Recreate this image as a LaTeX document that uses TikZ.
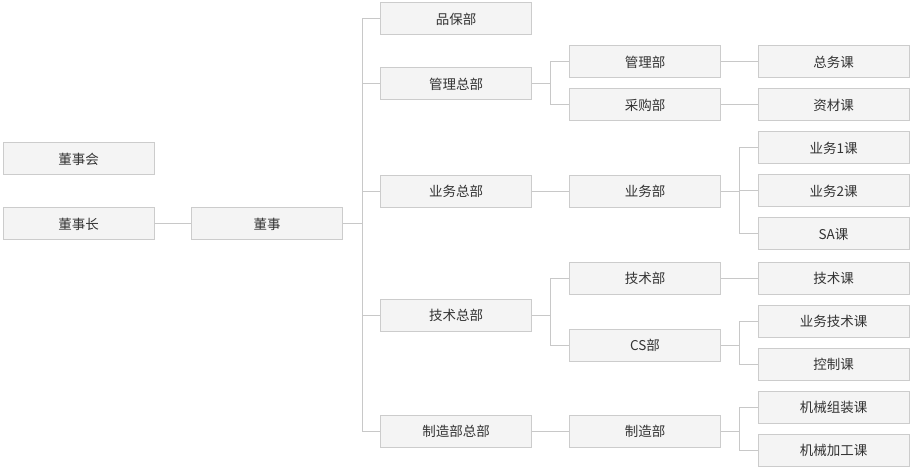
\documentclass[tikz,border=0pt]{standalone}
\usepackage{fontspec}
\setmainfont{Noto Sans CJK SC}
\definecolor{boxfill}{HTML}{F4F4F4}
\definecolor{boxline}{HTML}{CCCCCC}
\definecolor{wire}{HTML}{C8C8C8}
\definecolor{txt}{HTML}{333333}
\begin{document}
\begin{tikzpicture}[x=1pt,y=-1pt,
  orgbox/.style={draw=boxline,fill=boxfill,line width=1pt,minimum width=151pt,minimum height=32pt,inner sep=0pt,
    font=\fontsize{13.5}{16}\selectfont,text=txt},
  wireline/.style={draw=wire,line width=1pt}]
\useasboundingbox (0,0) rectangle (912,470);
% column 1
\node[orgbox] (dsh) at (78.5,159) {董事会};
\node[orgbox] (dsz) at (78.5,224) {董事长};
% column 2
\node[orgbox] (ds) at (267,224) {董事};
% column 3
\node[orgbox] (pb) at (456,19) {品保部};
\node[orgbox] (glz) at (456,84) {管理总部};
\node[orgbox] (ywz) at (456,191.5) {业务总部};
\node[orgbox] (jsz) at (456,315.5) {技术总部};
\node[orgbox] (zzz) at (456,431.5) {制造部总部};
% column 4
\node[orgbox] (gl) at (645,62) {管理部};
\node[orgbox] (cg) at (645,105) {采购部};
\node[orgbox] (yw) at (645,191.5) {业务部};
\node[orgbox] (js) at (645,278) {技术部};
\node[orgbox] (cs) at (645,345) {CS部};
\node[orgbox] (zz) at (645,431.5) {制造部};
% column 5
\node[orgbox] (zw) at (833.5,62) {总务课};
\node[orgbox] (zc) at (833.5,105) {资材课};
\node[orgbox] (yw1) at (833.5,148) {业务1课};
\node[orgbox] (yw2) at (833.5,191) {业务2课};
\node[orgbox] (sa) at (833.5,234) {SA课};
\node[orgbox] (jsk) at (833.5,278) {技术课};
\node[orgbox] (ywjs) at (833.5,321) {业务技术课};
\node[orgbox] (kz) at (833.5,364) {控制课};
\node[orgbox] (jxzz) at (833.5,407) {机械组装课};
\node[orgbox] (jxjg) at (833.5,450) {机械加工课};
% bus points
\coordinate (b1) at (362,224);
\coordinate (b2) at (550,84);
\coordinate (b3) at (739,191.5);
\coordinate (b4) at (550,315.5);
\coordinate (b5) at (739,345);
\coordinate (b6) at (739,431.5);
% connectors
\draw[wireline] (dsz) -- (ds);
\draw[wireline] (ds.east) -- (b1);
\foreach \c in {pb,glz,ywz,jsz,zzz} \draw[wireline] (b1) |- (\c.west);
\draw[wireline] (glz.east) -- (b2);
\foreach \c in {gl,cg} \draw[wireline] (b2) |- (\c.west);
\draw[wireline] (gl) -- (zw);
\draw[wireline] (cg) -- (zc);
\draw[wireline] (ywz) -- (yw);
\draw[wireline] (yw.east) -- (b3);
\foreach \c in {yw1,yw2,sa} \draw[wireline] (b3) |- (\c.west);
\draw[wireline] (jsz.east) -- (b4);
\foreach \c in {js,cs} \draw[wireline] (b4) |- (\c.west);
\draw[wireline] (js) -- (jsk);
\draw[wireline] (cs.east) -- (b5);
\foreach \c in {ywjs,kz} \draw[wireline] (b5) |- (\c.west);
\draw[wireline] (zzz) -- (zz);
\draw[wireline] (zz.east) -- (b6);
\foreach \c in {jxzz,jxjg} \draw[wireline] (b6) |- (\c.west);
\end{tikzpicture}
\end{document}
